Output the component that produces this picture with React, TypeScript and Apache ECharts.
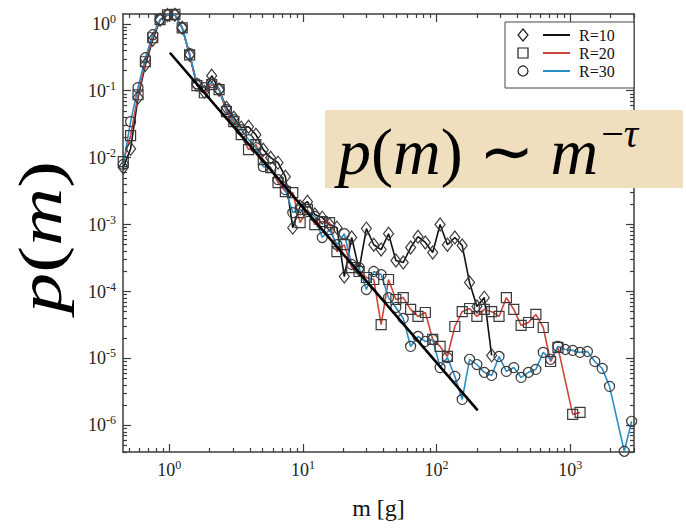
import React, { useEffect, useRef } from "react";
import * as echarts from "echarts";

// Log-binned mass values m [g]
const mBins = [0.452, 0.513, 0.583, 0.662, 0.751, 0.853, 0.969, 1.100, 1.248, 1.418, 1.609, 1.827, 2.075, 2.356, 2.675, 3.037, 3.448, 3.914, 4.443, 5.046, 5.728, 6.503, 7.384, 8.384, 9.517, 10.81, 12.27, 13.93, 15.81, 17.96, 20.39, 23.14, 26.28, 29.83, 33.87, 38.46, 43.67, 49.57, 56.28, 63.90, 72.55, 82.37, 93.52, 106.2, 120.5, 136.9, 155.4, 176.4, 200.3, 227.4, 258.2, 293.1, 332.8, 377.9, 429.0, 487.1, 553.0, 627.9, 712.9, 809.4, 918.9, 1043, 1184, 1345, 1527, 1734, 1968, 2234, 2537, 2880];

const pR10 = [7.1e-3, 1.36e-2, 7.9e-2, 0.244, 0.577, 1.15, 1.35, 1.36, 0.87, 0.344, 0.123, 0.0966, 0.1675, 0.1035, 0.0557, 0.0395, 0.0281, 0.029, 0.022, 0.01316, 0.0100, 0.00842, 0.0052, 9.0e-4, 1.86e-3, 2.2e-3, 1.41e-3, 1.27e-3, 1.0e-3, 9.0e-4, 1.67e-4, 6.4e-4, 2.13e-4, 8.7e-4, 5.0e-4, 4.23e-4, 7.3e-4, 2.9e-4, 2.71e-4, 4.54e-4, 6.6e-4, 5.4e-4, 3.82e-4, 1.0e-3, 5.0e-4, 6.4e-4, 4.86e-4, 1.36e-4, 5.97e-5, 8.1e-5, 1.11e-5];

const pR20 = [8.7e-3, 2.13e-2, 8.7e-2, 0.271, 0.618, 1.15, 1.36, 1.38, 0.87, 0.344, 0.119, 0.0933, 0.123, 0.1035, 0.0486, 0.0345, 0.022, 0.01316, 0.0156, 0.00933, 0.0071, 0.00424, 0.00311, 0.00301, 1.07e-3, 1.67e-3, 1.0e-3, 1.11e-3, 1.07e-3, 3.95e-4, 5.0e-4, 2.28e-4, 1.99e-4, 1.62e-4, 1.51e-4, 3.21e-5, 1.51e-4, 7.6e-5, 8.1e-5, 5.4e-5, 4.24e-5, 4.86e-5, 1.92e-5, 1.51e-5, 1.07e-5, 3.0e-5, 5.0e-5, 5.57e-5, 4.24e-5, 5.4e-5, 5.0e-5, 4.24e-5, 8.1e-5, 5.4e-5, 3.11e-5, 3.44e-5, 4.54e-5, 2.9e-5, 9.0e-6, 1.46e-5, null, 1.46e-6, 1.56e-6];

const pR30 = [7.9e-3, 3.45e-2, 0.111, 0.311, 0.685, 1.15, 1.36, 1.36, 0.87, 0.357, 0.127, 0.111, 0.1316, 0.107, 0.052, 0.037, 0.0262, 0.0186, 0.0141, 0.00734, 0.0071, 0.0047, 0.00333, 1.51e-3, 1.67e-3, 1.56e-3, 1.32e-3, 6.4e-4, 8.4e-4, 5.0e-4, 7.3e-4, 2.53e-4, 2.28e-4, 1.07e-4, 1.99e-4, 1.79e-4, 8.1e-5, 5.77e-5, 3.95e-5, 1.51e-5, 2.13e-5, 1.79e-5, 1.92e-5, 7.3e-6, 1.03e-5, 5.4e-6, 2.44e-6, 9.7e-6, 8.1e-6, 6.2e-6, 5.57e-6, 1.07e-5, 6.4e-6, 7.3e-6, 5.2e-6, 6.2e-6, 6.85e-6, 1.23e-5, 9.7e-6, 1.51e-5, 1.36e-5, 1.32e-5, 1.23e-5, 1.27e-5, 9.0e-6, 7.1e-6, 3.82e-6, null, 4.1e-7, 1.15e-6];

// Power-law fit line endpoints
const fitM = [1.01, 203];
const fitP = [0.369, 1.67e-6];

const seriesNames = ["R=10", "R=20", "R=30"];
const xDecades = [1, 10, 100, 1000];
const yDecades = [1e-6, 1e-5, 1e-4, 1e-3, 1e-2, 1e-1, 1];

const X_MIN = 0.45, X_MAX = 3000, Y_MIN = 4e-7, Y_MAX = 1.4;

const COL_R10 = "#111111";
const COL_R20 = "#d0443a";
const COL_R30 = "#2b8fc7";
const MARK = "#3a3a3a";
const SERIF = "'Liberation Serif', 'Times New Roman', serif";

function pairs(ps: (number | null)[]) {
  const out: number[][] = [];
  ps.forEach((p, i) => {
    if (p != null) out.push([mBins[i], p]);
  });
  return out;
}

function minorTicks(min: number, max: number) {
  const out: number[] = [];
  for (let e = Math.floor(Math.log10(min)); e <= Math.ceil(Math.log10(max)); e++) {
    for (let d = 2; d <= 9; d++) {
      const v = parseFloat((d * Math.pow(10, e)).toPrecision(6));
      if (v >= min && v <= max) out.push(v);
    }
  }
  return out;
}

const axisLineStyle = { color: "#3c3c3c", width: 1.5 };
const tickStyle = { color: "#3c3c3c", width: 1.2 };
const labelRich = {
  b: { fontFamily: SERIF, fontSize: 18, color: "#222", lineHeight: 22 },
  s: { fontFamily: SERIF, fontSize: 12, color: "#222", lineHeight: 12, verticalAlign: "top" },
};
const fmt = (v: number) => `{b|10}{s|${Math.round(Math.log10(v))}}`;

function axisSet(kind: "x" | "y", min: number, max: number, decades: number[], posA: string, posB: string, withLabels: boolean) {
  const minor = minorTicks(min, max);
  const base = { type: "log", min, max, splitLine: { show: false }, logBase: 10 };
  return [
    {
      ...base,
      position: posA,
      axisLine: { show: true, lineStyle: axisLineStyle },
      axisTick: { show: true, inside: true, length: 8, customValues: decades, lineStyle: tickStyle },
      axisLabel: withLabels
        ? { show: true, customValues: decades, formatter: fmt, rich: labelRich, margin: 7 }
        : { show: false },
      ...(kind === "x"
        ? { name: "m [g]", nameLocation: "middle", nameGap: 44, nameTextStyle: { fontFamily: SERIF, fontSize: 24, color: "#111" } }
        : {}),
    },
    {
      ...base,
      position: posA,
      axisLine: { show: false },
      axisTick: { show: true, inside: true, length: 4, customValues: minor, lineStyle: tickStyle },
      axisLabel: { show: false },
    },
    {
      ...base,
      position: posB,
      axisLine: { show: true, lineStyle: axisLineStyle },
      axisTick: { show: true, inside: true, length: 8, customValues: decades, lineStyle: tickStyle },
      axisLabel: { show: false },
    },
    {
      ...base,
      position: posB,
      axisLine: { show: false },
      axisTick: { show: true, inside: true, length: 4, customValues: minor, lineStyle: tickStyle },
      axisLabel: { show: false },
    },
  ];
}

function dataSeries(name: string, data: number[][], symbol: string, size: any, color: string) {
  return {
    type: "line",
    name,
    data,
    xAxisIndex: 0,
    yAxisIndex: 0,
    symbol,
    symbolSize: size,
    showSymbol: true,
    showAllSymbol: true,
    lineStyle: { color, width: 1.6 },
    itemStyle: { color: "rgba(255,255,255,0)", borderColor: MARK, borderWidth: 1.2 },
    emphasis: { disabled: true },
    z: 3,
  };
}

const italic = (size: number, lh: number) => ({ fontFamily: SERIF, fontStyle: "italic", fontSize: size, lineHeight: lh, fill: "#000" });
const upright = (size: number, lh: number) => ({ fontFamily: SERIF, fontSize: size, lineHeight: lh, fill: "#000" });

const option: any = {
  animation: false,
  backgroundColor: "#ffffff",
  grid: { left: 123, top: 14, right: 52, bottom: 76 },
  xAxis: axisSet("x", X_MIN, X_MAX, xDecades, "bottom", "top", true),
  yAxis: axisSet("y", Y_MIN, Y_MAX, yDecades, "left", "right", true),
  series: [
    dataSeries(seriesNames[0], pairs(pR10), "diamond", [10, 13], COL_R10),
    dataSeries(seriesNames[1], pairs(pR20), "rect", 10, COL_R20),
    dataSeries(seriesNames[2], pairs(pR30), "circle", 10, COL_R30),
    {
      type: "line",
      name: "fit",
      data: fitM.map((m, i) => [m, fitP[i]]),
      xAxisIndex: 0,
      yAxisIndex: 0,
      symbol: "none",
      lineStyle: { color: "#000", width: 2.6 },
      emphasis: { disabled: true },
      z: 5,
    },
  ],
  graphic: [
    {
      type: "text",
      x: 40,
      y: 237,
      rotation: Math.PI / 2,
      scaleX: 1.3,
      scaleY: 1.0,
      z: 100,
      style: {
        text: "{i|p}{n|(}{i|m}{n|)}",
        rich: { i: italic(62, 62), n: upright(62, 62) },
        align: "center",
        verticalAlign: "middle",
        fill: "#000",
      },
    },
    {
      type: "rect",
      z: 100,
      shape: { x: 325, y: 110, width: 358, height: 78 },
      style: { fill: "#efdfbf" },
    },
    {
      type: "text",
      x: 338,
      y: 151,
      z: 101,
      style: {
        text: "{i|p}{n|(}{i|m}{n|)}{n| ∼ }{i|m}{sn|−}{si|τ}",
        rich: {
          i: italic(66, 76),
          n: upright(66, 76),
          sn: { ...upright(40, 40), verticalAlign: "top", padding: [0, 0, 0, 3] },
          si: { ...italic(40, 40), verticalAlign: "top" },
        },
        align: "left",
        verticalAlign: "middle",
        fill: "#000",
      },
    },
    {
      type: "group",
      z: 100,
      children: [
        { type: "rect", z: 100, shape: { x: 505, y: 22, width: 129, height: 66 }, style: { fill: "#fff", stroke: "#444", lineWidth: 1 } },
        { type: "polygon", z: 101, shape: { points: [[523, 29], [528, 35], [523, 41], [518, 35]] }, style: { fill: "none", stroke: "#222", lineWidth: 1.2 } },
        { type: "line", z: 101, shape: { x1: 543, y1: 35, x2: 570, y2: 35 }, style: { stroke: COL_R10, lineWidth: 2 } },
        { type: "text", z: 101, x: 579, y: 35, style: { text: seriesNames[0], fontFamily: SERIF, fontSize: 16, fill: "#111", align: "left", verticalAlign: "middle" } },
        { type: "rect", z: 101, shape: { x: 518, y: 48, width: 10, height: 10 }, style: { fill: "none", stroke: "#222", lineWidth: 1.2 } },
        { type: "line", z: 101, shape: { x1: 543, y1: 53, x2: 570, y2: 53 }, style: { stroke: COL_R20, lineWidth: 2 } },
        { type: "text", z: 101, x: 579, y: 53, style: { text: seriesNames[1], fontFamily: SERIF, fontSize: 16, fill: "#111", align: "left", verticalAlign: "middle" } },
        { type: "circle", z: 101, shape: { cx: 523, cy: 71, r: 5 }, style: { fill: "none", stroke: "#222", lineWidth: 1.2 } },
        { type: "line", z: 101, shape: { x1: 543, y1: 71, x2: 570, y2: 71 }, style: { stroke: COL_R30, lineWidth: 2 } },
        { type: "text", z: 101, x: 579, y: 71, style: { text: seriesNames[2], fontFamily: SERIF, fontSize: 16, fill: "#111", align: "left", verticalAlign: "middle" } },
      ],
    },
  ],
};

export default function App() {
  const ref = useRef<HTMLDivElement>(null);
  useEffect(() => {
    const chart = echarts.init(ref.current as HTMLDivElement, null, { renderer: "svg" });
    chart.setOption(option);
    return () => chart.dispose();
  }, []);
  return (
    <div
      ref={ref}
      style={{ position: "fixed", left: 0, top: 0, width: 686, height: 528, background: "#fff" }}
    />
  );
}
